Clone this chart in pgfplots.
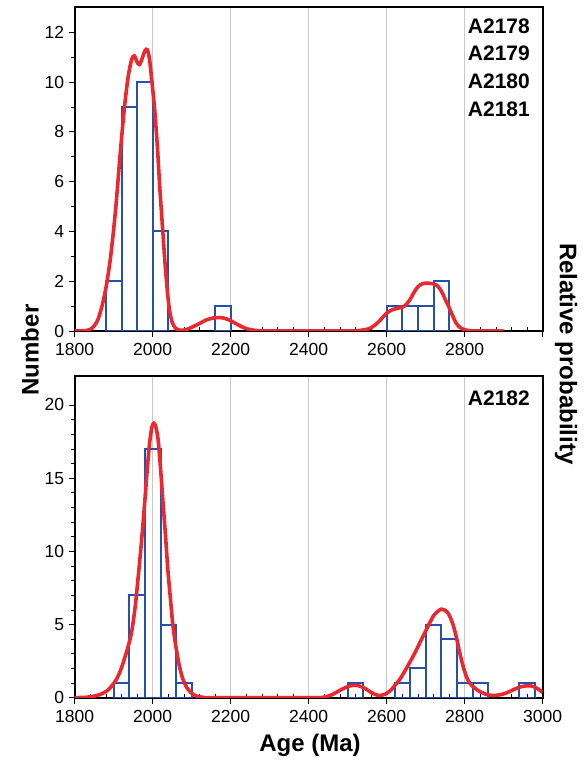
\documentclass[border=0pt]{standalone}
\usepackage{pgfplots}
\pgfplotsset{compat=1.18}
\usepackage{fontspec}
\setmainfont{Liberation Sans}
\definecolor{barblue}{RGB}{38,80,175}
\definecolor{curvered}{RGB}{235,40,48}
\definecolor{gridgray}{RGB}{200,200,200}
\pgfplotsset{
  panel/.style={
    scale only axis, width=468pt, xmin=1800, xmax=3000, ymin=0,
    axis line style={line width=1.8pt, black},
    xtick={1800,2000,...,3000}, minor x tick num=4,
    xtick pos=bottom, ytick pos=left,
    tick align=outside,
    major tick length=6pt, minor tick length=4pt,
    tick style={black, line width=0.6pt},
    minor x tick style={yshift=4pt},
    xmajorgrids, major x grid style={gridgray, line width=0.6pt},
    tick label style={font=\fontsize{17.5}{20}\selectfont},
    xticklabel style={yshift=-3pt},
    yticklabel style={xshift=-1pt},
    /pgf/number format/assume math mode=true,
    /pgf/number format/1000 sep={},
    clip=true,
  },
  bars/.style={ybar, bar width=40, bar shift=0pt, draw=barblue, fill=none, line width=2pt},
  curve/.style={smooth, no markers, color=curvered, line width=3.6pt},
}
\begin{document}
\begin{tikzpicture}
\useasboundingbox (0,0) rectangle (584pt,760pt);
% ---------- top panel ----------
\begin{axis}[panel, anchor=south west, at={(74.7pt,429pt)}, height=323.7pt,
  ymax=13, ytick={0,2,...,12}, minor y tick num=1,
  xticklabels={1800,2000,2200,2400,2600,2800,{}}]
\addplot[bars] coordinates {(1900,2) (1940,9) (1980,10) (2020,4)};
\addplot[bars] coordinates {(2180,1)};
\addplot[bars] coordinates {(2620,1) (2660,1) (2700,1) (2740,2)};
\addplot[curve] coordinates {
(1800,0) (1830,0.02) (1845,0.12) (1858,0.4) (1870,1.0) (1882,1.9) (1893,3.1)
(1905,4.9) (1916,7.0) (1927,8.9) (1937,10.2) (1946,10.9) (1953,11.05)
(1960,10.8) (1966,10.7) (1973,10.95) (1980,11.25) (1986,11.3) (1992,10.9)
(1998,10.0) (2005,8.9) (2012,7.4) (2018,5.8) (2025,4.2) (2031,2.85) (2037,1.7)
(2043,0.85) (2050,0.35) (2058,0.12) (2070,0.03) (2085,0.05) (2103,0.17)
(2120,0.3) (2137,0.44) (2155,0.52) (2174,0.54) (2190,0.48) (2205,0.37)
(2222,0.22) (2239,0.1) (2260,0.03) (2290,0.0) (2400,0) (2500,0) (2530,0.02)
(2552,0.08) (2565,0.18) (2578,0.35) (2590,0.55) (2600,0.72) (2612,0.84)
(2625,0.9) (2642,0.97) (2652,1.1) (2660,1.27) (2670,1.55) (2680,1.78)
(2692,1.9) (2705,1.92) (2718,1.9) (2728,1.84) (2737,1.68) (2745,1.45)
(2752,1.2) (2760,0.95) (2768,0.65) (2778,0.32) (2788,0.14) (2800,0.05)
(2815,0.01) (2840,0) (2900,0)};
\end{axis}
% ---------- bottom panel ----------
\begin{axis}[panel, anchor=south west, at={(74.7pt,62.3pt)}, height=322pt,
  ymax=22, ytick={0,5,...,20}, minor y tick num=4]
\addplot[bars] coordinates {(1920,1) (1960,7) (2000,17) (2040,5) (2080,1)};
\addplot[bars] coordinates {(2520,1)};
\addplot[bars] coordinates {(2640,1) (2680,2) (2720,5) (2760,4) (2800,1) (2840,1)};
\addplot[bars] coordinates {(2960,1)};
\addplot[curve] coordinates {
(1800,0) (1830,0.03) (1848,0.1) (1865,0.22) (1882,0.45) (1895,0.8) (1907,1.25)
(1918,1.9) (1928,2.7) (1937,3.5) (1946,4.5) (1955,6.2) (1963,8.3) (1972,10.9)
(1980,13.5) (1986,15.6) (1992,17.4) (1998,18.5) (2003,18.75) (2008,18.5)
(2014,17.6) (2020,15.7) (2026,13.5) (2033,11.0) (2039,8.7) (2046,6.6)
(2052,4.9) (2060,3.4) (2069,2.1) (2077,1.3) (2086,0.75) (2098,0.35)
(2111,0.12) (2128,0.03) (2150,0) (2300,0) (2420,0) (2440,0.05) (2455,0.15)
(2470,0.35) (2487,0.6) (2505,0.8) (2521,0.85) (2538,0.72) (2555,0.45)
(2568,0.25) (2581,0.15) (2594,0.22) (2607,0.43) (2620,0.8) (2633,1.23)
(2646,1.8) (2658,2.36) (2671,3.0) (2684,3.7) (2697,4.4) (2710,5.1) (2720,5.6)
(2731,5.9) (2740,6.05) (2748,6.0) (2755,5.85) (2761,5.6) (2770,5.0)
(2778,4.2) (2787,3.1) (2796,2.14) (2805,1.4) (2813,1.0) (2826,0.65)
(2839,0.42) (2856,0.22) (2873,0.15) (2890,0.2) (2907,0.32) (2925,0.55)
(2942,0.73) (2955,0.8) (2967,0.82) (2979,0.73) (2989,0.58) (3000,0.36)};
\end{axis}
% ---------- labels ----------
\node[rotate=90, font=\bfseries\fontsize{24}{28}\selectfont] at (30pt,410pt) {Number};
\node[rotate=-90, font=\bfseries\fontsize{24}{28}\selectfont] at (566pt,406pt) {Relative probability};
\node[font=\bfseries\fontsize{24}{28}\selectfont] at (310pt,15pt) {Age (Ma)};
\node[anchor=base east, inner sep=0pt, font=\bfseries\fontsize{21}{24}\selectfont] at (530pt,726.7pt) {A2178};
\node[anchor=base east, inner sep=0pt, font=\bfseries\fontsize{21}{24}\selectfont] at (530pt,699pt) {A2179};
\node[anchor=base east, inner sep=0pt, font=\bfseries\fontsize{21}{24}\selectfont] at (530pt,671.3pt) {A2180};
\node[anchor=base east, inner sep=0pt, font=\bfseries\fontsize{21}{24}\selectfont] at (530pt,643.5pt) {A2181};
\node[anchor=base east, inner sep=0pt, font=\bfseries\fontsize{21}{24}\selectfont] at (530pt,354pt) {A2182};
\end{tikzpicture}
\end{document}
